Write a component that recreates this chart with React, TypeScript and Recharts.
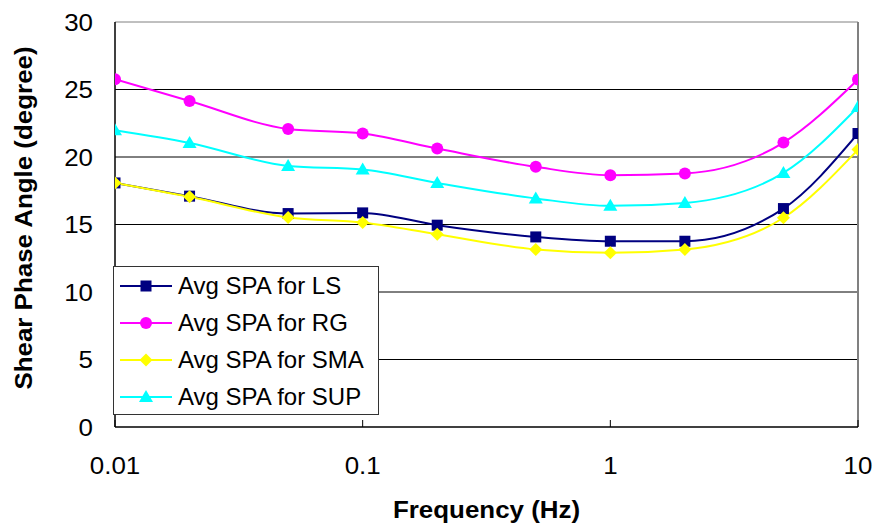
import React from 'react'
import { LineChart, Line, XAxis, YAxis, CartesianGrid, ReferenceLine } from 'recharts'

const FREQ = [0.01, 0.02, 0.05, 0.1, 0.2, 0.5, 1, 2, 5, 10]
const SPA_LS = [18.08, 17.1, 15.81, 15.86, 14.95, 14.08, 13.76, 13.76, 16.18, 21.74]
const SPA_RG = [25.76, 24.15, 22.08, 21.74, 20.63, 19.27, 18.65, 18.78, 21.07, 25.74]
const SPA_SMA = [18.08, 17.05, 15.52, 15.15, 14.28, 13.15, 12.9, 13.15, 15.5, 20.55]
const SPA_SUP = [21.98, 21.04, 19.34, 19.07, 18.08, 16.93, 16.38, 16.6, 18.82, 23.7]

const X_TICKS = [0.01, 0.1, 1, 10]
const Y_TICKS = [0, 5, 10, 15, 20, 25, 30]
const GRID_Y = [5, 10, 15, 20, 25]

const SERIES = [
  { key: 'ls', name: 'Avg SPA for LS', color: '#000080', marker: 'square', values: SPA_LS },
  { key: 'rg', name: 'Avg SPA for RG', color: '#ff00ff', marker: 'circle', values: SPA_RG },
  { key: 'sma', name: 'Avg SPA for SMA', color: '#ffff00', marker: 'diamond', values: SPA_SMA },
  { key: 'sup', name: 'Avg SPA for SUP', color: '#00ffff', marker: 'triangle', values: SPA_SUP },
]

const data = FREQ.map((f, i) => {
  const row: Record<string, number> = { f }
  SERIES.forEach((s) => (row[s.key] = s.values[i]))
  return row
})

const FONT = '"Liberation Sans", Arial, Helvetica, sans-serif'
const SX = 1.08

function Marker({ kind, cx, cy, color }: { kind: string; cx: number; cy: number; color: string }) {
  if (kind === 'square') return <rect x={cx - 5.5} y={cy - 5.5} width={11} height={11} fill={color} />
  if (kind === 'circle') return <circle cx={cx} cy={cy} r={6} fill={color} />
  if (kind === 'diamond')
    return <polygon points={`${cx},${cy - 6.5} ${cx + 6.5},${cy} ${cx},${cy + 6.5} ${cx - 6.5},${cy}`} fill={color} />
  return <polygon points={`${cx},${cy - 7} ${cx + 7},${cy + 5} ${cx - 7},${cy + 5}`} fill={color} />
}

function STxt({ x, y, anchor, size, bold, children }: any) {
  return (
    <text
      transform={`translate(${x} ${y}) scale(${SX} 1)`}
      textAnchor={anchor}
      fontSize={size}
      fontWeight={bold ? 'bold' : 'normal'}
      fontFamily={FONT}
      fill="#000"
    >
      {children}
    </text>
  )
}

function XTick({ x, y, payload }: any) {
  return (
    <g>
      <line x1={x} x2={x} y1={y} y2={y - 7} stroke="#000" />
      <STxt x={x} y={y + 47} anchor="middle" size={24}>
        {String(payload.value)}
      </STxt>
    </g>
  )
}

function YTick({ x, y, payload }: any) {
  return (
    <STxt x={x - 22} y={y + 8.5} anchor="end" size={24}>
      {String(payload.value)}
    </STxt>
  )
}

function XTitle() {
  return (
    <STxt x={486.5} y={518} anchor="middle" size={24} bold>
      Frequency (Hz)
    </STxt>
  )
}

function YTitle() {
  return (
    <text
      transform={`translate(23 218) rotate(-90) scale(${SX} 1)`}
      textAnchor="middle"
      dominantBaseline="central"
      fontSize={24}
      fontWeight="bold"
      fontFamily={FONT}
      fill="#000"
    >
      Shear Phase Angle (degree)
    </text>
  )
}

function LegendBox() {
  return (
    <div
      style={{
        position: 'absolute',
        left: 113,
        top: 266,
        width: 266,
        height: 149,
        border: '1px solid #333',
        background: '#fff',
        fontFamily: FONT,
        fontSize: 24,
        boxSizing: 'border-box',
      }}
    >
      {SERIES.map((s) => (
        <div key={s.key} style={{ height: 37.2, display: 'flex', alignItems: 'center' }}>
          <svg width={64} height={20} style={{ flex: 'none' }}>
            <line x1={6} x2={58} y1={10} y2={10} stroke={s.color} strokeWidth={2} />
            <Marker kind={s.marker} cx={32} cy={10} color={s.color} />
          </svg>
          <span style={{ whiteSpace: 'nowrap' }}>{s.name}</span>
        </div>
      ))}
    </div>
  )
}

export default function App() {
  return (
    <div style={{ position: 'absolute', left: 0, top: 0, width: 876, height: 529, background: '#fff' }}>
      <LineChart width={876} height={529} data={data} margin={{ top: 22, right: 18, bottom: 0, left: 0 }}>
        <CartesianGrid vertical={false} horizontalValues={GRID_Y} stroke="#000" strokeWidth={1} />
        <XAxis
          dataKey="f"
          type="number"
          scale="log"
          domain={[0.01, 10]}
          ticks={X_TICKS}
          allowDataOverflow
          height={102}
          tickLine={false}
          tickSize={0}
          tickMargin={0}
          tick={<XTick />}
          axisLine={{ stroke: '#000', strokeWidth: 1.5 }}
          label={<XTitle />}
        />
        <YAxis
          type="number"
          domain={[0, 30]}
          ticks={Y_TICKS}
          width={115}
          tickLine={false}
          tickSize={0}
          tickMargin={0}
          tick={<YTick />}
          axisLine={{ stroke: '#000', strokeWidth: 1.5 }}
          label={<YTitle />}
        />
        <ReferenceLine y={30} stroke="#808080" strokeWidth={1} />
        <ReferenceLine x={10} stroke="#808080" strokeWidth={2} />
        {SERIES.map((s) => (
          <Line
            key={s.key}
            dataKey={s.key}
            name={s.name}
            type="monotone"
            stroke={s.color}
            strokeWidth={2}
            isAnimationActive={false}
            dot={(p: any) => <Marker key={`${s.key}-${p.index}`} kind={s.marker} cx={p.cx} cy={p.cy} color={s.color} />}
            activeDot={false}
          />
        ))}
      </LineChart>
      <LegendBox />
    </div>
  )
}
